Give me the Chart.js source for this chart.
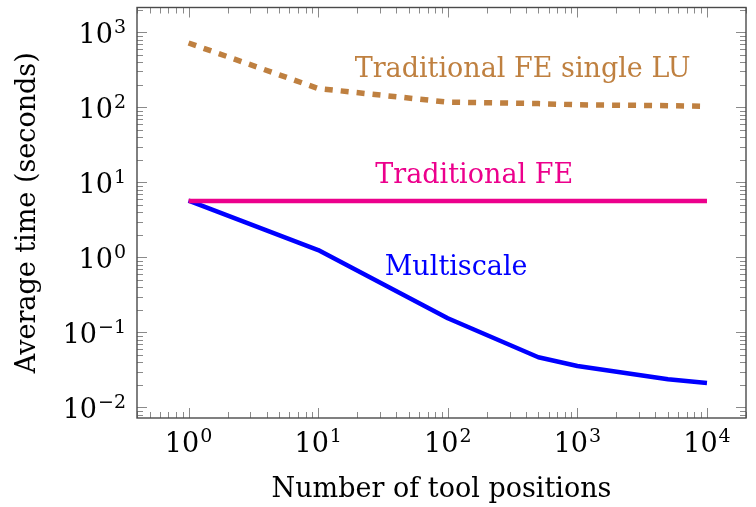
<!DOCTYPE html>
<html>
<head>
<meta charset="utf-8">
<script src="https://cdn.jsdelivr.net/npm/chart.js@4.4.0/dist/chart.umd.min.js"></script>
<style>
  html, body { margin: 0; padding: 0; background: #fff; }
  #wrap { width: 756px; height: 507px; }
</style>
</head>
<body>
<div id="wrap"><canvas id="timing-chart"></canvas></div>
<script>
// number of tool positions (x) and average times in seconds (y)
const toolPositions = [1, 10, 100, 500, 1000, 5000, 10000];
const singleLuTimes = [720, 178, 117, 112, 108, 105, 103];
const traditionalTimes = [5.65, 5.65, 5.65, 5.65, 5.65, 5.65, 5.65];
const multiscaleTimes = [5.7, 1.25, 0.154, 0.0464, 0.0356, 0.0236, 0.0211];

const seriesNames = ["Traditional FE single LU", "Traditional FE", "Multiscale"];
const seriesColors = ["#bf8040", "#ec008c", "#0000ff"];

// tick labels are 10^exp
const xTickExps = [0, 1, 2, 3, 4];
const yTickExps = [-2, -1, 0, 1, 2, 3];

// where the curve names sit, in data coordinates
const nameAnchorsX = [378, 160, 116];
const nameAnchorsY = [314, 12.3, 0.73];

const FONT = "'DejaVu Serif'";
const TEXT_SIZE = 27;
const SUP_SIZE = 19;

Chart.defaults.font.family = FONT;

const toPoints = (xs, ys) => xs.map((x, i) => ({ x: x, y: ys[i] }));

// draws "10" with a raised exponent
function drawPower(ctx, exp, x, baseline, align) {
  const sup = exp < 0 ? "\u2212" + Math.abs(exp) : String(exp);
  ctx.font = TEXT_SIZE + "px " + FONT;
  const wBase = ctx.measureText("10").width;
  ctx.font = SUP_SIZE + "px " + FONT;
  const wSup = ctx.measureText(sup).width;
  const total = wBase + 1 + wSup;
  const start = align === "center" ? x - total / 2 : x - total;
  ctx.textAlign = "left";
  ctx.textBaseline = "alphabetic";
  ctx.font = TEXT_SIZE + "px " + FONT;
  ctx.fillText("10", start, baseline);
  ctx.font = SUP_SIZE + "px " + FONT;
  ctx.fillText(sup, start + wBase + 1, baseline - 10);
}

function logTicks(min, max) {
  const out = [];
  const lo = Math.floor(Math.log10(min));
  const hi = Math.ceil(Math.log10(max));
  for (let e = lo; e <= hi; e++) {
    for (let m = 1; m <= 9; m++) {
      const v = m * Math.pow(10, e);
      if (v >= min && v <= max) out.push({ v: v, major: m === 1 });
    }
  }
  return out;
}

const axisFrame = {
  id: "axisFrame",
  afterDraw(chart) {
    const ctx = chart.ctx;
    const a = chart.chartArea;
    const xs = chart.scales.x;
    const ys = chart.scales.y;
    ctx.save();

    // inward ticks on all four sides
    ctx.strokeStyle = "#8a8a8a";
    ctx.lineWidth = 1;
    ctx.beginPath();
    logTicks(xs.min, xs.max).forEach((t) => {
      const px = Math.round(xs.getPixelForValue(t.v)) + 0.5;
      const len = t.major ? 10 : 6;
      ctx.moveTo(px, a.bottom);
      ctx.lineTo(px, a.bottom - len);
      ctx.moveTo(px, a.top);
      ctx.lineTo(px, a.top + len);
    });
    logTicks(ys.min, ys.max).forEach((t) => {
      const py = Math.round(ys.getPixelForValue(t.v)) + 0.5;
      const len = t.major ? 10 : 6;
      ctx.moveTo(a.left, py);
      ctx.lineTo(a.left + len, py);
      ctx.moveTo(a.right, py);
      ctx.lineTo(a.right - len, py);
    });
    ctx.stroke();

    // frame
    ctx.strokeStyle = "#4a4a4a";
    ctx.lineWidth = 1.4;
    ctx.strokeRect(a.left, a.top, a.right - a.left, a.bottom - a.top);

    // tick labels
    ctx.fillStyle = "#000";
    xTickExps.forEach((e) => {
      drawPower(ctx, e, xs.getPixelForValue(Math.pow(10, e)), a.bottom + 34, "center");
    });
    yTickExps.forEach((e) => {
      drawPower(ctx, e, a.left - 11, ys.getPixelForValue(Math.pow(10, e)) + 11, "right");
    });

    // axis titles
    ctx.font = TEXT_SIZE + "px " + FONT;
    ctx.textAlign = "center";
    ctx.textBaseline = "alphabetic";
    ctx.fillText("Number of tool positions", (a.left + a.right) / 2, 497);
    ctx.save();
    ctx.translate(35, (a.top + a.bottom) / 2);
    ctx.rotate(-Math.PI / 2);
    ctx.fillText("Average time (seconds)", 0, 0);
    ctx.restore();

    // curve names
    ctx.textBaseline = "middle";
    seriesNames.forEach((name, i) => {
      ctx.fillStyle = seriesColors[i];
      ctx.fillText(name, xs.getPixelForValue(nameAnchorsX[i]), ys.getPixelForValue(nameAnchorsY[i]));
    });

    ctx.restore();
  },
};

const timingCanvas = document.getElementById("timing-chart");

const timingData = {
  datasets: [
    {
      label: seriesNames[0],
      data: toPoints(toolPositions, singleLuTimes),
      borderColor: seriesColors[0],
      borderWidth: 5.5,
      borderDash: [8, 8],
      borderCapStyle: "butt",
      pointRadius: 0,
    },
    {
      label: seriesNames[1],
      data: toPoints(toolPositions, traditionalTimes),
      borderColor: seriesColors[1],
      borderWidth: 4.5,
      pointRadius: 0,
    },
    {
      label: seriesNames[2],
      data: toPoints(toolPositions, multiscaleTimes),
      borderColor: seriesColors[2],
      borderWidth: 4.5,
      borderJoinStyle: "round",
      pointRadius: 0,
    },
  ],
};

const timingOptions = {
  responsive: true,
  maintainAspectRatio: false,
  animation: false,
  layout: {
    padding: { left: 0, right: 10, top: 7.5, bottom: 0 },
  },
  scales: {
    x: {
      type: "logarithmic",
      min: 0.4,
      max: 20000,
      grid: { display: false },
      border: { display: false },
      ticks: { display: false },
      afterFit: (scale) => {
        scale.height = 89;
      },
    },
    y: {
      type: "logarithmic",
      min: 0.0072,
      max: 2140,
      grid: { display: false },
      border: { display: false },
      ticks: { display: false },
      afterFit: (scale) => {
        scale.width = 137;
      },
    },
  },
  plugins: {
    legend: { display: false },
    tooltip: { enabled: false },
  },
};

let timingChart = new Chart(timingCanvas, {
  type: "line",
  data: timingData,
  options: timingOptions,
  plugins: [axisFrame],
});
</script>
</body>
</html>
